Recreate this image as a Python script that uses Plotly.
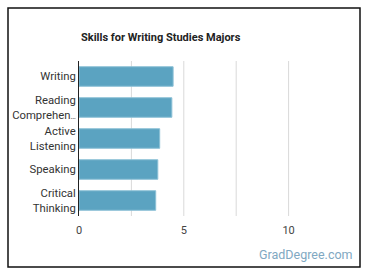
import plotly.graph_objects as go

categories = ["Writing", "Reading<br>Comprehen<span style='font-size:8px'>…</span>",
              "Active<br>Listening", "Speaking", "Critical<br>Thinking"]
values = [4.49, 4.43, 3.85, 3.76, 3.66]
tick_vals = [0, 5, 10]

W, H = 370, 278
L, R, T, B = 79, 29, 61, 62
pw, ph = W - L - R, H - T - B

def px(x):
    return (x - L) / pw

def py(y):
    return (H - B - y) / ph

fig = go.Figure(go.Bar(
    x=values, y=categories, orientation="h",
    marker=dict(color="#5ba3c1", line=dict(color="#8cc0d6", width=1)),
    width=0.63,
    hoverinfo="skip",
))

fig.update_layout(
    width=W, height=H,
    margin=dict(l=L, r=R, t=T, b=B, autoexpand=False),
    paper_bgcolor="white", plot_bgcolor="white",
    showlegend=False,
    font=dict(family="Roboto", size=11, color="#333333"),
    xaxis=dict(range=[0, 12.5], tickvals=tick_vals, ticktext=[str(v) for v in tick_vals],
               showgrid=False, zeroline=False, showline=False, ticks="",
               ticklabelstandoff=6, automargin=False,
               tickfont=dict(size=11, color="#444444"), fixedrange=True),
    yaxis=dict(autorange="reversed", showgrid=False, zeroline=False,
               showline=True, linecolor="#222222", linewidth=1, ticks="",
               ticklabelstandoff=0, automargin=False,
               tickfont=dict(size=11.3, color="#333333"), fixedrange=True),
    bargap=0.37,
)

shapes = []
for g in [2.5, 5, 7.5, 10]:
    shapes.append(dict(type="line", xref="x", yref="paper", x0=g, x1=g, y0=0, y1=1,
                       line=dict(color="#d9d9d9", width=1), layer="below"))
shapes.append(dict(type="rect", xref="paper", yref="paper",
                   x0=px(8), x1=px(360), y0=py(267), y1=py(8),
                   line=dict(color="#111111", width=1.5), layer="above"))
fig.update_layout(shapes=shapes)

fig.add_annotation(text="<b>Skills for Writing Studies Majors</b>", xref="paper", yref="paper",
                   x=px(79), y=py(37), xanchor="left", yanchor="middle", showarrow=False,
                   font=dict(family="Roboto", size=11, color="#222222"))
fig.add_annotation(text="GradDegree.com", xref="paper", yref="paper",
                   x=px(355), y=py(255), xanchor="right", yanchor="middle", showarrow=False,
                   font=dict(family="Roboto", size=12.5, color="#7fa8c2"))

fig.write_html("out.html")
